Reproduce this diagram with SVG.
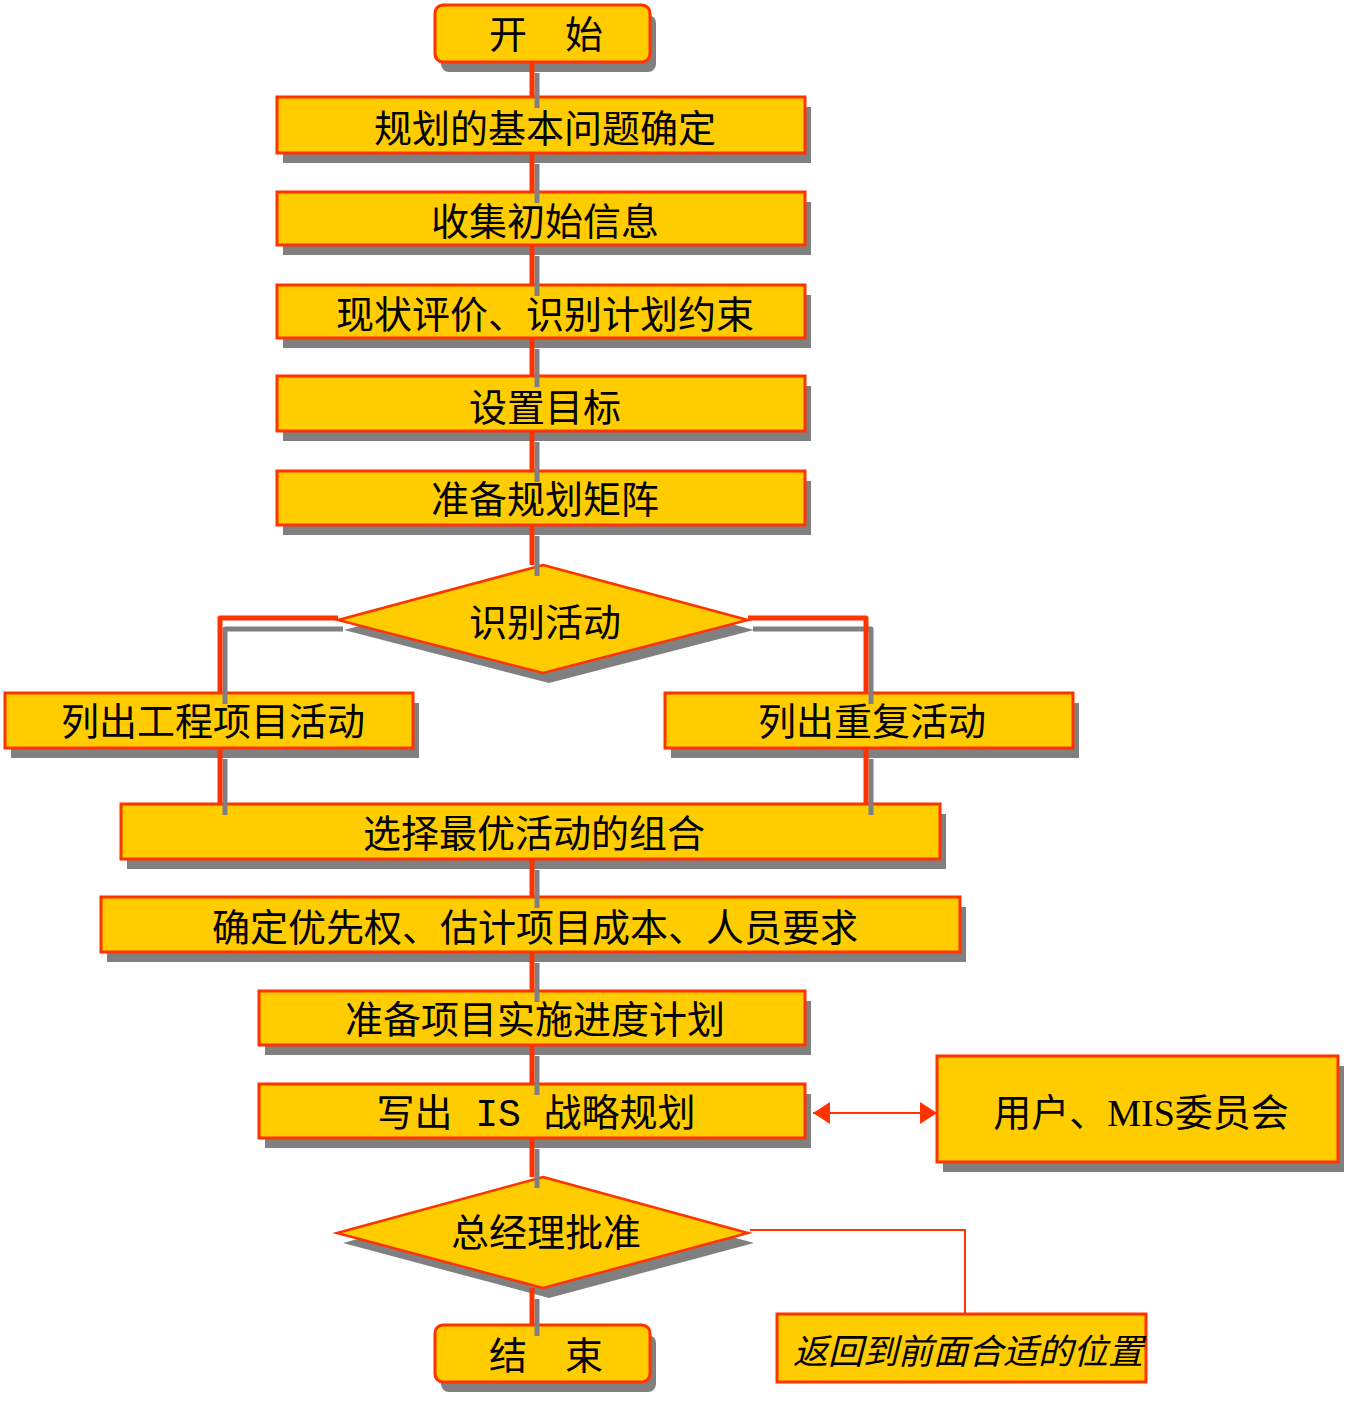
<svg xmlns="http://www.w3.org/2000/svg" width="1356" height="1404" viewBox="0 0 1356 1404">
<defs>
<style>
.box{fill:#FFCC00;stroke:#FF3300;stroke-width:3}
.sh{fill:#808080}
.t{font-family:"Noto Sans CJK SC","Liberation Sans",sans-serif;font-size:38px;text-anchor:middle;fill:#000}
.lat{font-family:"Liberation Serif","Noto Sans CJK SC",serif}
.mono{font-family:"Liberation Mono","Noto Sans CJK SC",monospace}
.c{fill:none;stroke:#FF3300;stroke-width:5;stroke-linejoin:round}
.cs{fill:none;stroke:#808080;stroke-width:5;stroke-linejoin:round}
.thin{fill:none;stroke:#FF3300;stroke-width:2}
</style>
<marker id="ah" viewBox="0 0 17 22" refX="17" refY="11" markerWidth="17" markerHeight="22" markerUnits="userSpaceOnUse" orient="auto-start-reverse">
<path d="M0,0 L17,11 L0,22 Z" fill="#FF3300"/>
</marker>
</defs>
<rect width="1356" height="1404" fill="#fff"/>

<g id="start">
<rect class="sh" x="441" y="15" width="215" height="57" rx="8"/>
<rect class="box" x="435" y="5" width="215" height="57" rx="8"/>
<text class="t" x="546" y="48">开　始</text>
</g>
<g id="n1">
<rect class="sh" x="283" y="107" width="528" height="56"/>
<rect class="box" x="277" y="97" width="528" height="56"/>
<text class="t" x="545" y="142">规划的基本问题确定</text>
</g>
<g id="n2">
<rect class="sh" x="283" y="202" width="528" height="53"/>
<rect class="box" x="277" y="192" width="528" height="53"/>
<text class="t" x="545" y="235">收集初始信息</text>
</g>
<g id="n3">
<rect class="sh" x="283" y="295" width="528" height="53"/>
<rect class="box" x="277" y="285" width="528" height="53"/>
<text class="t" x="545" y="328">现状评价、识别计划约束</text>
</g>
<g id="n4">
<rect class="sh" x="283" y="386" width="528" height="55"/>
<rect class="box" x="277" y="376" width="528" height="55"/>
<text class="t" x="545" y="421">设置目标</text>
</g>
<g id="n5">
<rect class="sh" x="283" y="481" width="528" height="54"/>
<rect class="box" x="277" y="471" width="528" height="54"/>
<text class="t" x="545" y="513">准备规划矩阵</text>
</g>
<g id="d1">
<polygon class="sh" points="549,575 754,630 549,683 344,630"/>
<polygon class="box" style="stroke-width:2.5" points="543,565 748,620 543,673 338,620"/>
<text class="t" x="545" y="636">识别活动</text>
</g>
<g id="nL">
<rect class="sh" x="11" y="703" width="408" height="55"/>
<rect class="box" x="5" y="693" width="408" height="55"/>
<text class="t" x="213" y="735">列出工程项目活动</text>
</g>
<g id="nR">
<rect class="sh" x="671" y="703" width="408" height="55"/>
<rect class="box" x="665" y="693" width="408" height="55"/>
<text class="t" x="872" y="735">列出重复活动</text>
</g>
<g id="n6">
<rect class="sh" x="127" y="814" width="819" height="55"/>
<rect class="box" x="121" y="804" width="819" height="55"/>
<text class="t" x="534" y="847">选择最优活动的组合</text>
</g>
<g id="n7">
<rect class="sh" x="107" y="907" width="859" height="55"/>
<rect class="box" x="101" y="897" width="859" height="55"/>
<text class="t" x="535" y="941">确定优先权、估计项目成本、人员要求</text>
</g>
<g id="n8">
<rect class="sh" x="265" y="1001" width="546" height="54"/>
<rect class="box" x="259" y="991" width="546" height="54"/>
<text class="t" x="535" y="1033">准备项目实施进度计划</text>
</g>
<g id="n9">
<rect class="sh" x="265" y="1094" width="546" height="54"/>
<rect class="box" x="259" y="1084" width="546" height="54"/>
<text class="t" x="536" y="1126">写出<tspan class="mono"> IS </tspan>战略规划</text>
</g>
<g id="users">
<rect class="sh" x="943" y="1066" width="401" height="106"/>
<rect class="box" x="937" y="1056" width="401" height="106"/>
<text class="t" x="1141" y="1126">用户、<tspan class="lat">MIS</tspan>委员会</text>
</g>
<g id="d2">
<polygon class="sh" points="549,1187 754,1243 549,1298 343,1243"/>
<polygon class="box" style="stroke-width:2.5" points="543,1177 748,1233 543,1288 337,1233"/>
<text class="t" x="546" y="1246">总经理批准</text>
</g>
<g id="end">
<rect class="sh" x="441" y="1335" width="215" height="57" rx="8"/>
<rect class="box" x="435" y="1325" width="215" height="57" rx="8"/>
<text class="t" x="546" y="1369">结　束</text>
</g>
<g id="back">
<rect class="box" x="777" y="1314" width="369" height="68"/>
<text class="t" x="968" y="1364" style="font-style:italic;font-size:35px">返回到前面合适的位置</text>
</g>

<g id="connectors">
<g class="cs" transform="translate(5,11)">
<path d="M532,62V97M532,153V192M532,245V285M532,338V376M532,431V471M532,525V565"/>
<path d="M338,618H220V693M748,618H866V693M220,748V804M866,748V804"/>
<path d="M532,859V897M532,952V991M532,1045V1084M532,1138V1177M532,1288V1325"/>
</g>
<g class="c">
<path d="M532,62V97M532,153V192M532,245V285M532,338V376M532,431V471M532,525V565"/>
<path d="M338,618H220V693M748,618H866V693M220,748V804M866,748V804"/>
<path d="M532,859V897M532,952V991M532,1045V1084M532,1138V1177M532,1288V1325"/>
</g>
<line class="thin" x1="813" y1="1113" x2="937" y2="1113" marker-start="url(#ah)" marker-end="url(#ah)"/>
<path class="thin" d="M750,1230H965V1314"/>
</g>
</svg>
